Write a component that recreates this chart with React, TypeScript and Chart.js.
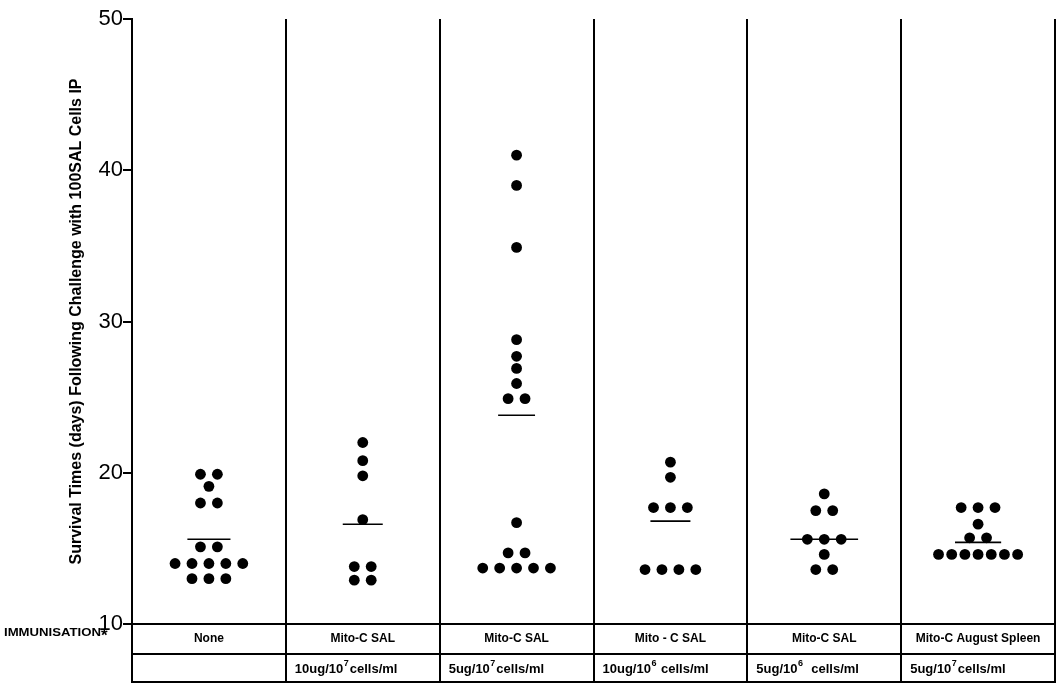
import React, { useEffect, useRef } from 'react';
import { Chart, registerables } from 'chart.js';

Chart.register(...registerables);

// ---- data ----
const groupLabels = ['None', 'Mito-C SAL', 'Mito-C SAL', 'Mito - C SAL', 'Mito-C SAL', 'Mito-C August Spleen'];
const doseLabels = ['', '10ug/10⁷cells/ml', '5ug/10⁷cells/ml', '10ug/10⁶ cells/ml', '5ug/10⁶  cells/ml', '5ug/10⁷cells/ml'];

const survivalNone = [19.9, 19.9, 19.1, 18.0, 18.0, 15.1, 15.1, 14.0, 14.0, 14.0, 14.0, 14.0, 13.0, 13.0, 13.0];
const survivalSal10e7x10 = [22.0, 20.8, 19.8, 16.9, 13.8, 13.8, 12.9, 12.9];
const survivalSal10e7x5 = [41.0, 39.0, 34.9, 28.8, 27.7, 26.9, 25.9, 24.9, 24.9, 16.7, 14.7, 14.7, 13.7, 13.7, 13.7, 13.7, 13.7];
const survivalSal10e6x10 = [20.7, 19.7, 17.7, 17.7, 17.7, 13.6, 13.6, 13.6, 13.6];
const survivalSal10e6x5 = [18.6, 17.5, 17.5, 15.6, 15.6, 15.6, 14.6, 13.6, 13.6];
const survivalSpleen = [17.7, 17.7, 17.7, 16.6, 15.7, 15.7, 14.6, 14.6, 14.6, 14.6, 14.6, 14.6, 14.6];

const groupMeans = [15.6, 16.6, 23.8, 16.8, 15.6, 15.4];
const yTickValues = [10, 20, 30, 40, 50];

const yTitle = 'Survival Times (days) Following Challenge with 100SAL Cells IP';
const rowTitle = 'IMMUNISATION';

// ---- styles ----
const meanHalfWidths = [0.14, 0.13, 0.12, 0.13, 0.22, 0.15];
const FONT = "'Liberation Sans', Arial, Helvetica, sans-serif";
const SUPERS = '⁰¹²³⁴⁵⁶⁷⁸⁹';

const survivalByGroup = [
  survivalNone,
  survivalSal10e7x10,
  survivalSal10e7x5,
  survivalSal10e6x10,
  survivalSal10e6x5,
  survivalSpleen,
];

function swarm(values: number[], center: number) {
  const counts = new Map<number, number>();
  values.forEach((v) => counts.set(v, (counts.get(v) || 0) + 1));
  const seen = new Map<number, number>();
  return values.map((v) => {
    const n = counts.get(v) as number;
    const i = seen.get(v) || 0;
    seen.set(v, i + 1);
    const spacing = Math.min(0.11, 0.6 / n);
    return { x: center + (i - (n - 1) / 2) * spacing, y: v };
  });
}

function drawRich(ctx: CanvasRenderingContext2D, text: string, x: number, y: number) {
  let cx = x;
  let buf = '';
  const flush = () => {
    if (!buf) return;
    ctx.font = `bold 13px ${FONT}`;
    ctx.fillText(buf, cx, y);
    cx += ctx.measureText(buf).width;
    buf = '';
  };
  for (const ch of text) {
    const idx = SUPERS.indexOf(ch);
    if (idx >= 0) {
      flush();
      ctx.font = `bold 9px ${FONT}`;
      const d = String(idx);
      ctx.fillText(d, cx + 0.5, y - 5);
      cx += ctx.measureText(d).width + 1.5;
    } else {
      buf += ch;
    }
  }
  flush();
}

const tablePlugin = {
  id: 'tablePlugin',
  beforeDatasetsDraw(chart: any) {
    const { ctx, chartArea, scales } = chart;
    const xs = scales.x;
    const bottom = chartArea.bottom + 58;
    ctx.save();
    ctx.strokeStyle = '#000';
    ctx.lineWidth = 2;
    for (let k = 0; k <= groupLabels.length; k++) {
      const px = Math.round(xs.getPixelForValue(k));
      ctx.beginPath();
      ctx.moveTo(px, chartArea.top);
      ctx.lineTo(px, bottom);
      ctx.stroke();
    }
    ctx.restore();
  },
  afterDraw(chart: any) {
    const { ctx, chartArea, scales } = chart;
    const xs = scales.x;
    const y0 = chartArea.bottom;
    const y1 = y0 + 30;
    const y2 = y0 + 58;
    const left = xs.getPixelForValue(0);
    const right = xs.getPixelForValue(groupLabels.length);
    ctx.save();
    ctx.strokeStyle = '#000';
    ctx.lineWidth = 2;
    [y0, y1, y2].forEach((yy) => {
      ctx.beginPath();
      ctx.moveTo(left - 1, yy);
      ctx.lineTo(right + 1, yy);
      ctx.stroke();
    });
    ctx.fillStyle = '#000';
    ctx.textBaseline = 'middle';
    groupLabels.forEach((lab, k) => {
      const a = xs.getPixelForValue(k);
      const b = xs.getPixelForValue(k + 1);
      ctx.font = `bold 12px ${FONT}`;
      ctx.textAlign = 'center';
      const w = ctx.measureText(lab).width;
      const cx = (a + b) / 2;
      if (w > b - a - 6) {
        ctx.save();
        ctx.translate(cx, (y0 + y1) / 2);
        ctx.scale((b - a - 6) / w, 1);
        ctx.fillText(lab, 0, 0);
        ctx.restore();
      } else {
        ctx.fillText(lab, cx, (y0 + y1) / 2);
      }
      const dose = doseLabels[k];
      if (dose) {
        ctx.textAlign = 'left';
        drawRich(ctx, dose, a + 9, (y1 + y2) / 2 + 1);
      }
    });
    // row heading
    ctx.font = `bold 10px ${FONT}`;
    ctx.textAlign = 'left';
    const tw = ctx.measureText(rowTitle).width;
    ctx.save();
    ctx.translate(4, 633);
    ctx.scale(97 / tw, 1);
    ctx.fillText(rowTitle, 0, 0);
    ctx.restore();
    ctx.font = `bold 17px ${FONT}`;
    ctx.fillText('*', 101, 636);
    ctx.restore();
  },
};

export default function App() {
  const canvasRef = useRef<HTMLCanvasElement | null>(null);

  useEffect(() => {
    document.body.style.margin = '0';
    const canvas = canvasRef.current;
    if (!canvas) return;

    const points: { x: number; y: number }[] = [];
    survivalByGroup.forEach((vals, k) => {
      points.push(...swarm(vals, k + 0.5));
    });

    const meanSets = groupMeans.map((m, k) => ({
      label: `mean ${k + 1}`,
      data: [
        { x: k + 0.5 - meanHalfWidths[k], y: m },
        { x: k + 0.5 + meanHalfWidths[k], y: m },
      ],
      showLine: true,
      borderColor: '#000',
      borderWidth: 1.6,
      pointRadius: 0,
      pointHoverRadius: 0,
      order: 2,
    }));

    const chart = new Chart(canvas, {
      type: 'scatter',
      data: {
        datasets: [
          {
            label: 'Survival',
            data: points,
            pointRadius: 5.4,
            pointHoverRadius: 5.4,
            backgroundColor: '#000',
            borderColor: '#000',
            borderWidth: 0,
            order: 1,
          },
          ...meanSets,
        ],
      },
      options: {
        responsive: false,
        animation: false,
        layout: { padding: { top: 19, right: 6, bottom: 62, left: 0 } },
        plugins: {
          legend: { display: false },
          tooltip: { enabled: false },
        },
        scales: {
          x: { type: 'linear', min: 0, max: groupLabels.length, display: false },
          y: {
            min: yTickValues[0],
            max: yTickValues[yTickValues.length - 1],
            afterBuildTicks: (s: any) => {
              s.ticks = yTickValues.map((v) => ({ value: v }));
            },
            afterFit: (s: any) => {
              s.width = 132;
            },
            ticks: {
              color: '#000',
              font: { size: 22, family: FONT },
              padding: 0,
            },
            grid: {
              drawOnChartArea: false,
              drawTicks: true,
              tickLength: 9,
              color: '#000',
              lineWidth: 2,
            },
            border: { display: true, color: '#000', width: 2 },
            title: {
              display: true,
              text: yTitle,
              color: '#000',
              font: { size: 16, weight: 'bold', family: FONT },
              padding: { top: 67, bottom: 0 },
            },
          },
        },
      },
      plugins: [tablePlugin],
    });

    return () => chart.destroy();
  }, []);

  return (
    <div style={{ width: 1061, height: 686, background: '#fff' }}>
      <canvas ref={canvasRef} width={1061} height={686} style={{ display: 'block' }} />
    </div>
  );
}
